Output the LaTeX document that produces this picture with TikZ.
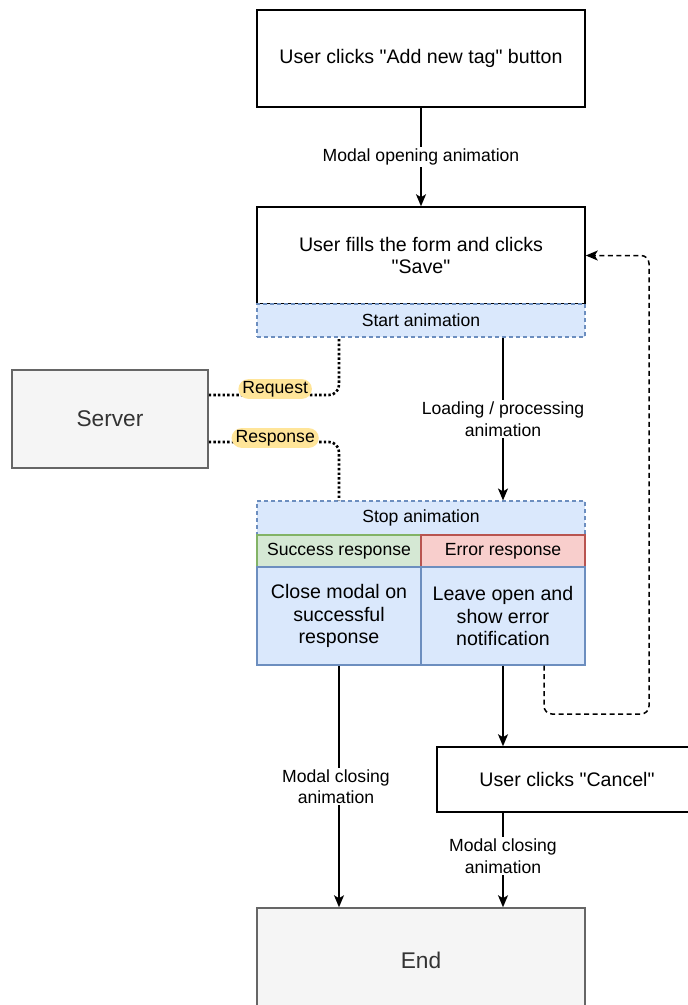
\documentclass[tikz,border=0pt]{standalone}
\usepackage{fontspec}
\setmainfont{Liberation Sans}[Ligatures=TeXOff]
\usetikzlibrary{arrows.meta}
\definecolor{bfill}{HTML}{DAE8FC}
\definecolor{bline}{HTML}{6C8EBF}
\definecolor{gfill}{HTML}{D5E8D4}
\definecolor{gline}{HTML}{82B366}
\definecolor{rfill}{HTML}{F8CECC}
\definecolor{rline}{HTML}{B85450}
\definecolor{greyfill}{HTML}{F5F5F5}
\definecolor{greyline}{HTML}{666666}
\definecolor{greytext}{HTML}{333333}
\definecolor{ylw}{HTML}{FFE599}
\tikzset{
  boxtext/.style={font=\fontsize{19.6}{22.5}\selectfont, align=center, inner sep=0pt},
  whitebox/.style={boxtext, draw=black, fill=white, line width=1.5pt, minimum width=328pt, minimum height=97pt},
  strip/.style={draw=bline, fill=bfill, line width=1.1pt, dash pattern=on 4pt off 3pt, minimum width=328pt, inner sep=0pt, font=\fontsize{17.6}{21}\selectfont},
  halfbox/.style={draw, line width=1.3pt, minimum width=164pt, inner sep=0pt, align=center},
  greybox/.style={draw=greyline, fill=greyfill, line width=1.5pt, text=greytext, font=\fontsize{22.7}{26}\selectfont, inner sep=0pt},
  arr/.style={line width=1.5pt, -{Stealth[length=12pt,width=10pt,inset=3pt]}},
  elbl/.style={fill=white, font=\fontsize{17.6}{21.5}\selectfont, align=center, inner sep=1.5pt},
  ylbl/.style={fill=ylw, font=\fontsize{17.6}{21}\selectfont, inner xsep=4pt, inner ysep=2pt},
  dots/.style={line width=2.6pt, dash pattern=on 2.4pt off 2.2pt, rounded corners=10pt},
  dashret/.style={line width=1.5pt, dash pattern=on 5pt off 3.5pt, rounded corners=8pt, -{Stealth[length=12pt,width=10pt,inset=3pt]}}
}
\begin{document}
\begin{tikzpicture}[x=1pt,y=-1pt]
\useasboundingbox (0,0) rectangle (688,1005);
\clip (0,0) rectangle (688,1005);

\node[whitebox] (top) at (421,58.5) {User clicks "Add new tag" button};
\node[whitebox] (fill) at (421,255.5) {User fills the form and clicks\\"Save"};
\node[strip, minimum height=33pt] (start) at (421,320.5) {Start animation};

\node[greybox, minimum width=196pt, minimum height=98pt] (server) at (110,419) {Server};

\node[strip, minimum height=34pt] (stop) at (421,518) {Stop animation};
\node[halfbox, draw=gline, fill=gfill, minimum height=32pt, font=\fontsize{17.6}{21}\selectfont] (succ) at (339,551) {Success response};
\node[halfbox, draw=rline, fill=rfill, minimum height=32pt, font=\fontsize{17.6}{21}\selectfont] (err) at (503,551) {Error response};
\node[halfbox, draw=bline, fill=bfill, minimum height=98pt, font=\fontsize{19.6}{22.5}\selectfont] (close) at (339,616) {Close modal on\\successful\\response};
\node[halfbox, draw=bline, fill=bfill, minimum height=98pt, font=\fontsize{19.6}{22.5}\selectfont] (leave) at (503,616) {Leave open and\\show error\\notification};

\node[boxtext, draw=black, fill=white, line width=1.5pt, minimum width=260pt, minimum height=65pt] (cancel) at (567,779.5) {User clicks "Cancel"};

\node[greybox, minimum width=328pt, minimum height=104pt] (end) at (421,960) {End};

\coordinate (rb) at (649,714);

% arrows
\draw[arr] (top) -- node[elbl] {Modal opening animation} (fill);
\draw[arr] (start.south -| leave) -- node[elbl] {Loading / processing\\animation} (stop.north -| leave);
\draw[arr] (leave.south) -- (cancel.north -| leave);
\draw[arr] (close.south) -- node[elbl, xshift=-3pt] {Modal closing\\animation} (end.north -| close);
\draw[arr] (cancel.south -| leave) -- node[elbl, yshift=4pt] {Modal closing\\animation} (end.north -| leave);

% request / response
\draw[dots] ([yshift=24pt]server.east) -| node[ylbl, pos=0.255, yshift=6pt] {Request} (start.south -| close);
\draw[dots] ([yshift=-23pt]server.east) -| node[ylbl, pos=0.255, yshift=4pt] {Response} (stop.north -| close);

% return path
\draw[dashret] ([xshift=41pt]leave.south) |- (rb) |- (fill.east);
\end{tikzpicture}
\end{document}
